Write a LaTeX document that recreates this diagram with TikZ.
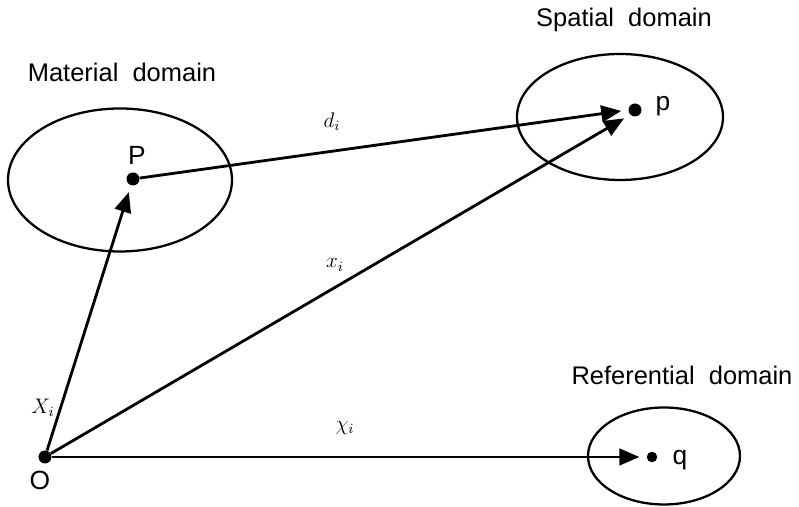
\documentclass[tikz,border=0pt]{standalone}
\usepackage{fontspec}
\setsansfont{Liberation Sans}
\usepackage{tikz}
\usetikzlibrary{arrows.meta,shapes.geometric}
\tikzset{
  domainbox/.style={ellipse,draw=black,line width=1.3pt,inner sep=0pt},
  pointdot/.style={circle,fill=black,inner sep=0pt,minimum size=0.26cm},
  titletext/.style={font=\sffamily\fontsize{14.5}{16}\selectfont},
  ptlabel/.style={font=\sffamily\fontsize{15}{17}\selectfont},
  veclabel/.style={font=\fontsize{12}{14}\selectfont},
  arrow/.style={-{Triangle[length=4mm,width=3.3mm]},line width=1.6pt,shorten >=1.4mm}
}
\begin{document}
\begin{tikzpicture}
  \useasboundingbox (0,0) rectangle (15.98,10.14);

  % domains
  \node[domainbox,minimum width=4.48cm,minimum height=2.86cm] (material) at (2.4,6.54) {};
  \node[domainbox,minimum width=4.12cm,minimum height=2.52cm] (spatial) at (12.4,7.8) {};
  \node[domainbox,minimum width=3.04cm,minimum height=1.94cm] (referential) at (13.28,1.02) {};

  \node[titletext] (mattitle) at (2.44,8.7) {Material\ \ domain};
  \node[titletext] (spatitle) at (12.48,9.74) {Spatial\ \ domain};
  \node[titletext] (reftitle) at (13.64,2.64) {Referential\ \ domain};

  % points
  \node[pointdot] (O) at (0.9,1.0) {};
  \node[pointdot] (P) at (2.66,6.56) {};
  \node[pointdot] (p) at (12.7,7.94) {};
  \node[pointdot,minimum size=0.21cm] (q) at (13.04,1.0) {};

  \node[ptlabel] (Olabel) at (0.8,0.54) {O};
  \node[ptlabel] (Plabel) at (2.74,7.04) {P};
  \node[ptlabel] (plabel) at (13.26,8.02) {p};
  \node[ptlabel] (qlabel) at (13.6,0.94) {q};

  % vectors
  \draw[arrow] (O) -- (P);
  \draw[arrow] (O) -- (p.south west);
  \draw[arrow] (O) -- (q);
  \draw[arrow] (P) -- (p.west);

  \node[veclabel] (Xlab) at (0.86,1.98) {$X_i$};
  \node[veclabel] (xlab) at (6.7,4.84) {$x_i$};
  \node[veclabel] (chilab) at (6.9,1.58) {$\chi_i$};
  \node[veclabel] (dlab) at (6.64,7.7) {$d_i$};
\end{tikzpicture}
\end{document}
